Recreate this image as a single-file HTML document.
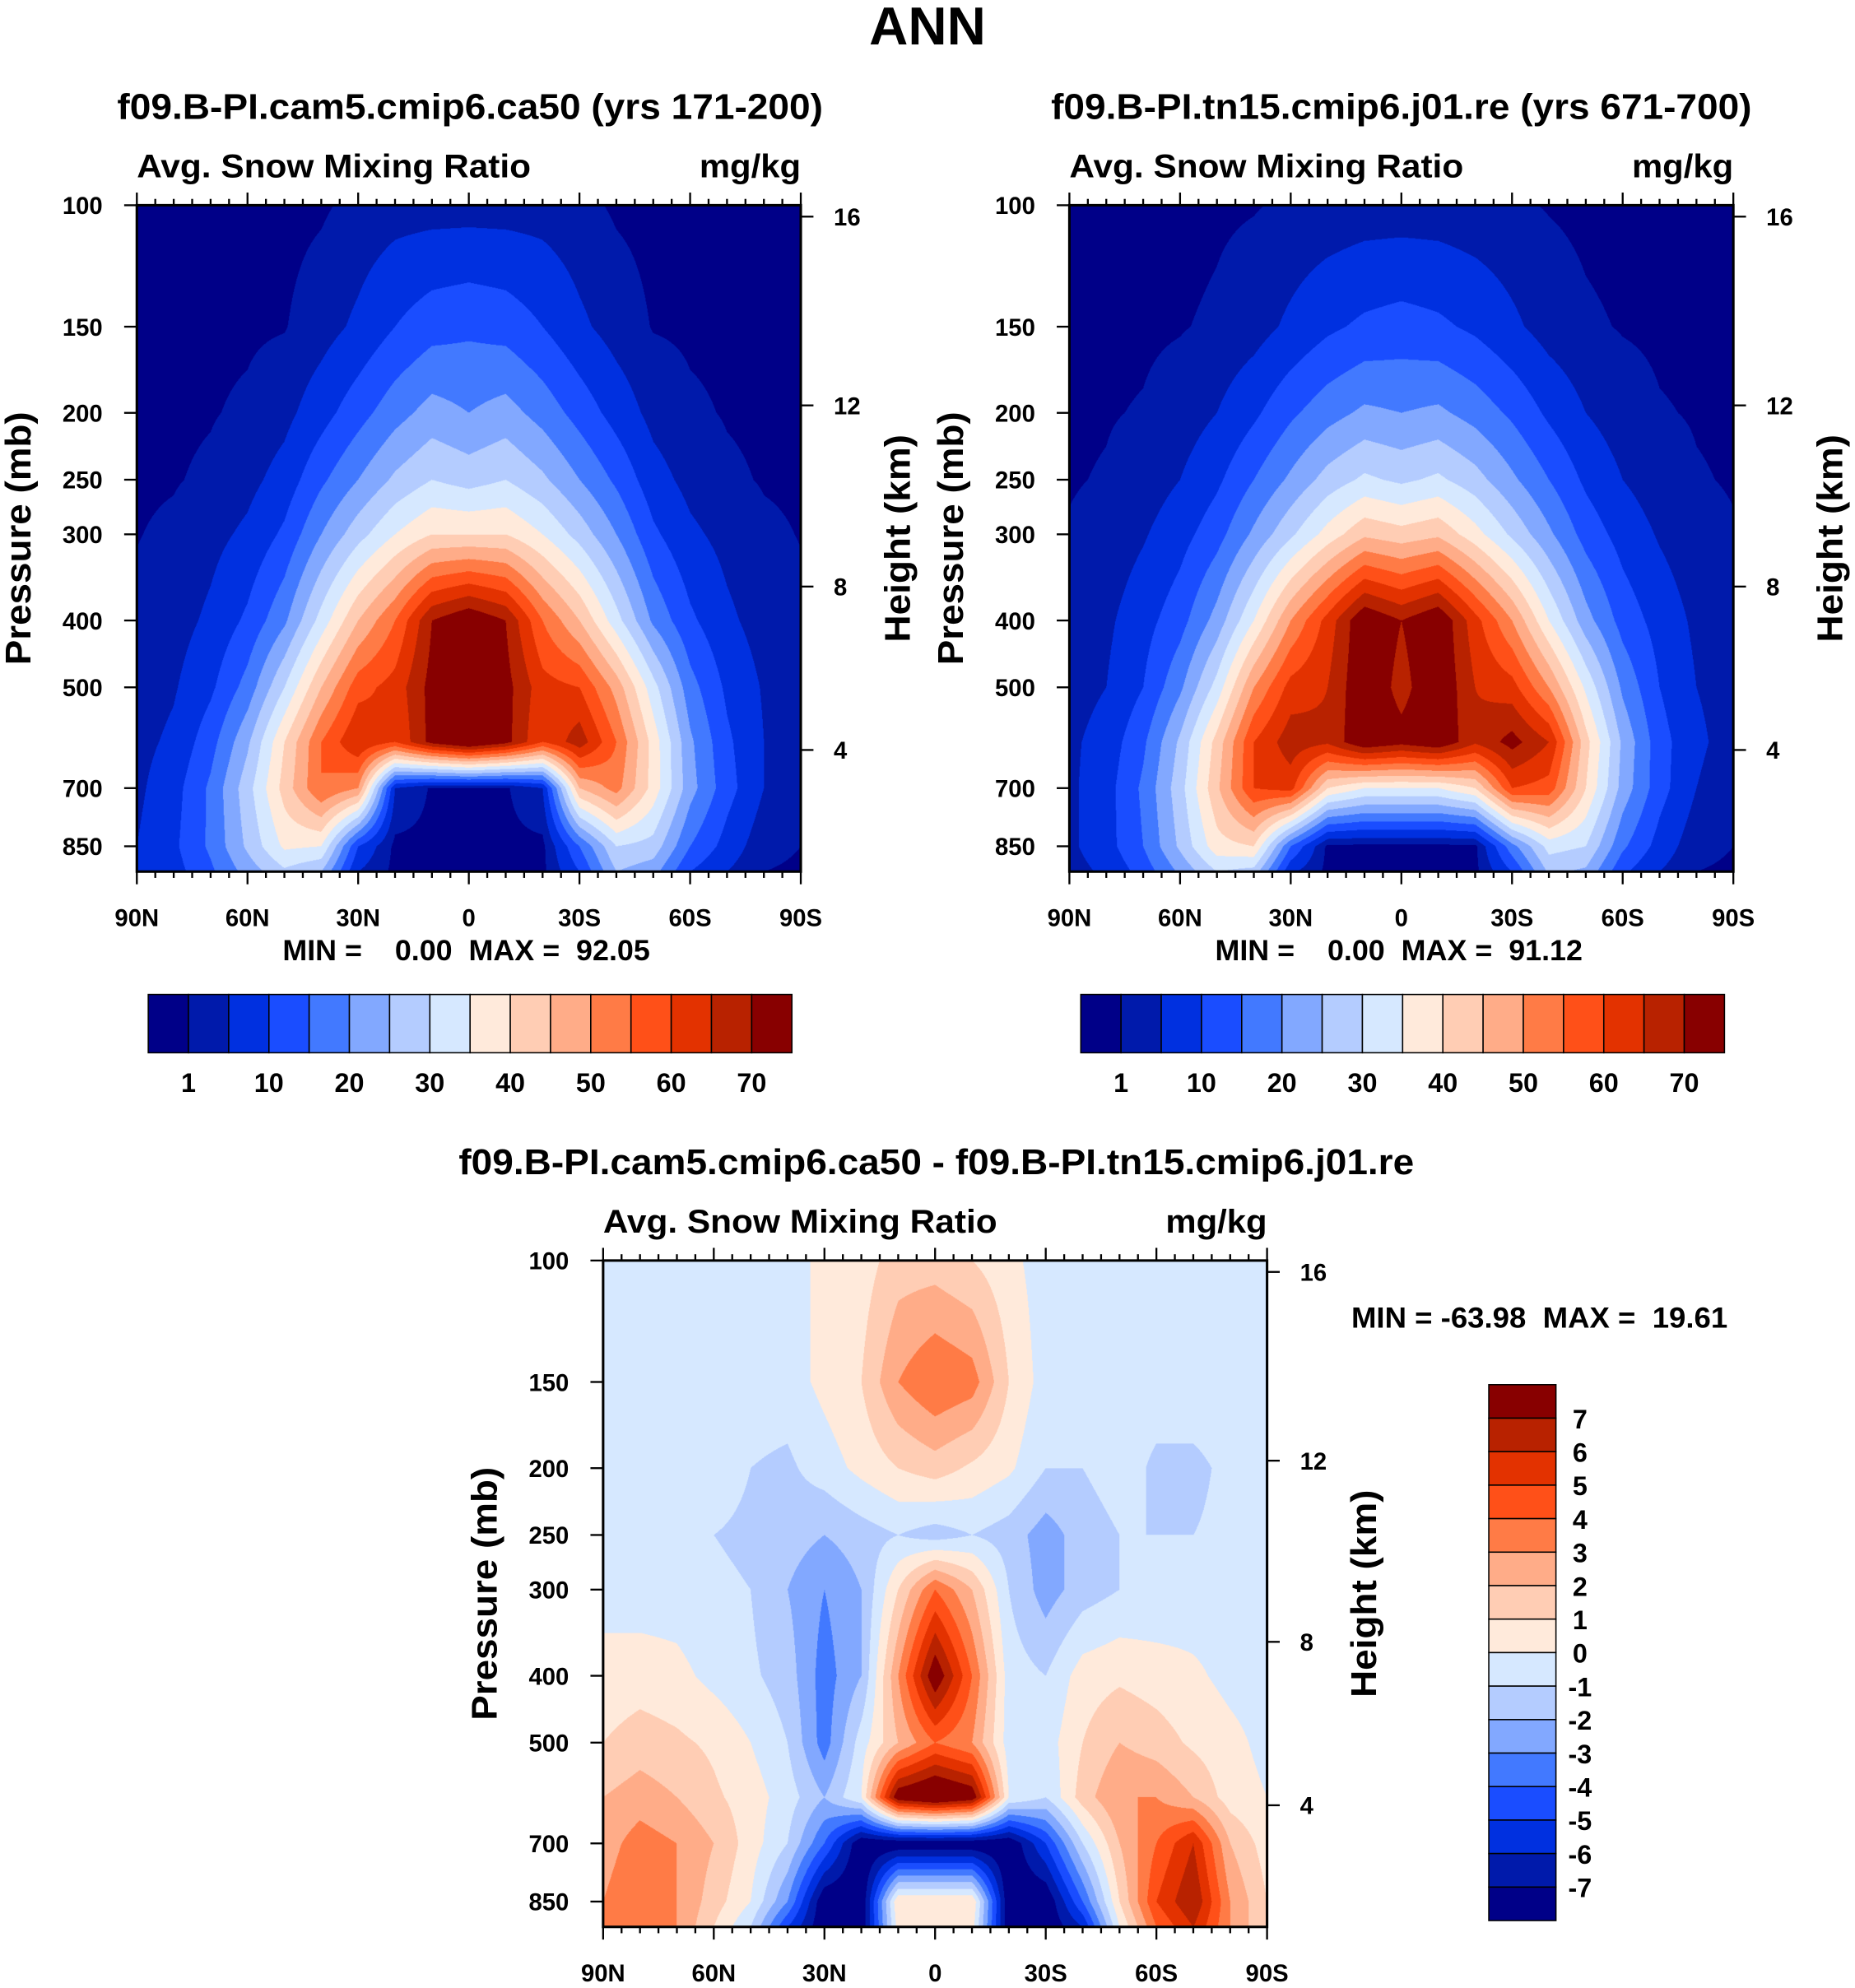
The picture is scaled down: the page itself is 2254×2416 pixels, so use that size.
<!DOCTYPE html>
<html><head><meta charset="utf-8">
<style>
html,body{margin:0;padding:0;background:#fff;width:2254px;height:2416px;overflow:hidden}
#wrap{position:absolute;left:0;top:0;width:1464px;height:1569px;transform:scale(1.5396);transform-origin:0 0;font-family:"Liberation Sans",sans-serif;font-weight:bold}
canvas{position:absolute}
svg{position:absolute;left:0;top:0}
text{font-family:"Liberation Sans",sans-serif;font-weight:bold;fill:#000;white-space:pre}
</style></head><body>
<div id="wrap">
<canvas id="c1"></canvas>
<canvas id="c2"></canvas>
<canvas id="c3"></canvas>
<svg id="s" width="1464" height="1569"></svg>
</div>
<script>
// ---- data ----
const lats = [90,80,70,60,50,40,30,20,10,0,-10,-20,-30,-40,-50,-60,-70,-80,-90];
const levels = [100,150,200,250,300,400,500,600,700,850,925];
const ca50 = [
[0,0,0,0,0,0.5,2,3,3,3,3,3,2,0.5,0,0,0,0,0],
[0.3,0.3,0.4,0.5,0.8,3,6,10,13,14,13,10,6,3,0.8,0.5,0.4,0.3,0.3],
[0.4,0.5,0.8,1.5,3.5,8,13,18,22,20,22,18,13,8,3.5,1.5,0.8,0.5,0.4],
[0.6,0.8,1.5,3.5,7,14,20,26,30,28,30,26,20,14,7,3.5,1.5,0.8,0.6],
[0.9,1.5,3.5,6,11,20,28,35,40,40,40,35,28,20,11,6,3.5,1.5,0.9],
[1.5,3,6,11,19,32,45,55,70,75,70,55,45,32,19,11,6,3,1.5],
[2.5,4.5,9,17,30,45,58,62,72,80,72,62,60,48,32,17,9,4.5,2.5],
[3.5,6,13,24,40,55,65,60,72,78,72,60,68,55,38,21,11,5,3],
[4,8,16,28,42,55,50,5,0.5,0.5,0.5,5,45,52,38,22,12,5,2],
[5,9,16,26,36,35,10,0,0,0,0,0,15,30,28,15,8,2,1],
[5,8,14,22,29,25,5,0,0,0,0,0,10,25,22,10,5,1,0.5]];
const tn15 = [
[0,0,0,0,0.5,0.8,1.5,2,2.5,2.5,2.5,2,1.5,0.8,0.3,0,0,0,0],
[0.4,0.4,0.5,0.8,1.5,3,6,9,11,12,11,9,6,3,1.5,0.8,0.5,0.4,0.4],
[0.6,0.8,1.2,2.5,5,9,14,18,21,20,21,18,14,9,5,2.5,1.2,0.8,0.6],
[0.8,1.2,2.5,5,9,15,21,27,31,29,31,27,21,15,9,5,2.5,1.2,0.8],
[1.2,2,4.5,8,13,21,29,37,44,42,44,37,29,21,13,8,4.5,2,1.2],
[2,4,8,13,22,35,50,62,75,70,75,62,50,35,22,13,8,4,2],
[3,5,10,19,32,50,62,65,75,68,75,65,62,50,34,19,10,5,3],
[4,7,14,26,42,60,68,66,75,72,75,66,72,65,42,24,12,6,3],
[4,8,16,28,44,60,62,40,35,35,35,40,60,58,40,23,12,5,2],
[4,8,15,26,38,40,15,0,0,0,0,0,18,32,30,16,8,2,1],
[3,6,12,21,30,28,6,0,0,0,0,0,10,26,24,11,5,1,0.5]];
const diff = [
[-0.5,-0.5,-0.5,-0.5,-0.5,-0.5,0.3,0.5,1.5,1.5,1,0.3,-0.5,-0.5,-0.5,-0.5,-0.5,-0.5,-0.5],
[-0.5,-0.5,-0.5,-0.5,-0.5,-0.5,0.3,1,3,4,3.5,1,-0.5,-0.8,-0.5,-0.5,-0.5,-0.5,-0.5],
[-0.5,-0.5,-0.5,-0.5,-1,-1.2,-0.5,0.3,1,1.5,0.8,0.2,-1,-1,-0.5,-1.2,-1.2,-0.8,-0.5],
[-0.5,-0.5,-0.5,-1,-1.2,-1.5,-2,-1.5,-1,-1.5,-1,-1.5,-2.5,-1.5,-1,-1,-1,-0.8,-0.5],
[-0.3,-0.5,-0.5,-0.8,-1,-2,-3,-2,1,4,2,-1,-2.5,-1.5,-1,-0.8,-0.6,-0.5,-0.5],
[0.3,0.5,0.3,-0.3,-0.8,-1.5,-3.5,-2,3,8,4,-0.5,-1,0.5,0.8,0.5,0.2,-0.3,-0.5],
[1,1.5,1.2,0.8,0,-1,-3.5,-0.5,2,4,3,-0.5,-0.5,1,2,1.5,0.8,0.3,-0.3],
[2,2.5,2,1.2,0.5,-0.5,-2,0,8,9,8,0,-1,1.5,3,3,2,0.5,0],
[2.5,3.5,3,2,0.5,-1,-4,-8,-8,-8,-8,-8,-5,-1,2,4,6,2,0.5],
[3,4,3,1.5,0,-3,-8,-8,1,1,1,-8,-8,-4,1,5,7,3,1],
[3,3.5,3,1,-1,-5,-8,-8,0.5,0.5,0.5,-8,-8,-6,0,4,6,3,1]];
const absLevels = [1,5,10,15,20,25,30,35,40,45,50,55,60,65,70];
const absLabels = ["1","10","20","30","40","50","60","70"];
const diffLevels = [-7,-6,-5,-4,-3,-2,-1,0,1,2,3,4,5,6,7];
const latTicks = ["90N","60N","30N","0","30S","60S","90S"];
const pTicks = [100,150,200,250,300,400,500,700,850];
const zTicks = [16,12,8,4];
const colors = ["#000088","#001aab","#0030e0","#1a4dff","#4279ff","#82a8ff","#b4ccff","#d6e8ff","#ffeadb","#ffcdb4","#ffac88","#ff7b46","#ff5018","#e33200","#b82200","#880000"];

// ---- geometry ----
const W=524,H=526,PBOT=925;
const panels=[
 {id:'c1',x:108,y:162,data:ca50,lv:absLevels,title:"f09.B-PI.cam5.cmip6.ca50 (yrs 171-200)",tx:371,tl:557,mm:"MIN =    0.00  MAX =  92.05"},
 {id:'c2',x:844,y:162,data:tn15,lv:absLevels,title:"f09.B-PI.tn15.cmip6.j01.re (yrs 671-700)",tx:1106,tl:553,mm:"MIN =    0.00  MAX =  91.12"},
 {id:'c3',x:476,y:995,data:diff,lv:diffLevels,title:"f09.B-PI.cam5.cmip6.ca50 - f09.B-PI.tn15.cmip6.j01.re",tx:739,tl:754,mm:null}];
const pY=p=>H*Math.log(p/100)/Math.log(PBOT/100);
const latX=l=>W*(90-l)/180;
const zAnch=[[16,9],[12,158],[8,301],[4,430]];
const zY=z=>{for(const a of zAnch)if(a[0]===z)return a[1];return 0;};
const lnL=levels.map(p=>Math.log(p));
function sample(d,lat,p){
 let fi=(90-lat)/10; let i0=Math.min(17,Math.floor(fi)); let fx=fi-i0;
 const lp=Math.log(p); let j0=0; while(j0<levels.length-2&&lp>lnL[j0+1])j0++;
 let fy=(lp-lnL[j0])/(lnL[j0+1]-lnL[j0]); fy=Math.max(0,Math.min(1,fy));
 const a=d[j0][i0],b=d[j0][i0+1],c=d[j0+1][i0],e=d[j0+1][i0+1];
 return (a*(1-fx)+b*fx)*(1-fy)+(c*(1-fx)+e*fx)*fy;
}
const rgb=colors.map(h=>[parseInt(h.slice(1,3),16),parseInt(h.slice(3,5),16),parseInt(h.slice(5,7),16)]);
const S=2;
for(const P of panels){
 const cv=document.getElementById(P.id);
 cv.width=W*S;cv.height=H*S;
 cv.style.left=P.x+'px';cv.style.top=P.y+'px';cv.style.width=W+'px';cv.style.height=H+'px';
 const ctx=cv.getContext('2d');const im=ctx.createImageData(W*S,H*S);
 const lnR=Math.log(PBOT/100);
 for(let yy=0;yy<H*S;yy++){
  const p=100*Math.exp(lnR*(yy+0.5)/(H*S));
  for(let xx=0;xx<W*S;xx++){
   const lat=90-180*(xx+0.5)/(W*S);
   const v=sample(P.data,lat,p);
   let k=0;while(k<P.lv.length&&v>=P.lv[k])k++;
   const c=rgb[k];const o=(yy*W*S+xx)*4;
   im.data[o]=c[0];im.data[o+1]=c[1];im.data[o+2]=c[2];im.data[o+3]=255;
  }
 }
 ctx.putImageData(im,0,0);
}
// ---- svg ----
const svg=document.getElementById('s');const NS='http://www.w3.org/2000/svg';
function el(tag,attrs,txt){const e=document.createElementNS(NS,tag);for(const k in attrs)e.setAttribute(k,attrs[k]);if(txt!==undefined)e.textContent=txt;svg.appendChild(e);return e;}
let t=el('text',{x:732,y:35,'font-size':42,'text-anchor':'middle',textLength:92,lengthAdjust:'spacingAndGlyphs'},'ANN');


panels.forEach((P,pi)=>{
 const x0=P.x,y0=P.y;
 let e=el('text',{x:P.tx,y:y0-68,'font-size':28,'text-anchor':'middle',textLength:P.tl,lengthAdjust:'spacingAndGlyphs'},P.title);
 
 
 e=el('text',{x:x0,y:y0-22,'font-size':26,textLength:311,lengthAdjust:'spacingAndGlyphs'},'Avg. Snow Mixing Ratio');
 
 
 e=el('text',{x:x0+W,y:y0-22,'font-size':26,'text-anchor':'end',textLength:80,lengthAdjust:'spacingAndGlyphs'},'mg/kg');
 
 
 e=el('rect',{x:x0,y:y0,width:W,height:H,fill:'none',stroke:'#000','stroke-width':2});
 
 
 for(let l=90;l>=-90;l-=5){
  const X=x0+latX(l);const maj=(l%30===0);const len=maj?10:5;
  el('line',{x1:X,y1:y0+H,x2:X,y2:y0+H+len,stroke:'#000','stroke-width':1.5});
  el('line',{x1:X,y1:y0,x2:X,y2:y0-len,stroke:'#000','stroke-width':1.5});
 }
 latTicks.forEach((s,i)=>{const X=x0+W*i/6;
  e=el('text',{x:X,y:y0+H+43,'font-size':19,'text-anchor':'middle'},s);
  
  });
 pTicks.forEach(p=>{const Y=y0+pY(p);
  el('line',{x1:x0,y1:Y,x2:x0-10,y2:Y,stroke:'#000','stroke-width':1.5});
  e=el('text',{x:x0-27,y:Y+7,'font-size':19,'text-anchor':'end'},String(p));
  
  });
 zTicks.forEach(z=>{const Y=y0+zY(z);
  el('line',{x1:x0+W,y1:Y,x2:x0+W+10,y2:Y,stroke:'#000','stroke-width':1.5});
  e=el('text',{x:x0+W+26,y:Y+7,'font-size':19},String(z));
  
  });
 e=el('text',{x:0,y:0,'font-size':28,'text-anchor':'middle',textLength:200,lengthAdjust:'spacingAndGlyphs',transform:`translate(${x0-84},${y0+H/2}) rotate(-90)`},'Pressure (mb)');
 
 
 e=el('text',{x:0,y:0,'font-size':28,'text-anchor':'middle',textLength:164,lengthAdjust:'spacingAndGlyphs',transform:`translate(${x0+W+86},${y0+H/2}) rotate(-90)`},'Height (km)');
 
 
 if(P.mm){
  e=el('text',{x:x0+W/2-2,y:y0+H+70,'font-size':23,'text-anchor':'middle',textLength:290,lengthAdjust:'spacingAndGlyphs'},P.mm);
  
  
  const bx=x0+9,by=785,bw=508/16,bh=46;
  colors.forEach((c,i)=>{e=el('rect',{x:bx+i*bw,y:by,width:bw,height:bh,fill:c,stroke:'#000','stroke-width':1});
   
   });
  absLabels.forEach((s,i)=>{const X=bx+bw*(i===0?1:2*i+1);
   e=el('text',{x:X,y:862,'font-size':21,'text-anchor':'middle'},s);
   
   });
 }
});
let e2=el('text',{x:1215,y:1048,'font-size':23,'text-anchor':'middle',textLength:297,lengthAdjust:'spacingAndGlyphs'},'MIN = -63.98  MAX =  19.61');


const cbx=1175,cby=1093,cbw=53,cbh=423/16;
colors.slice().reverse().forEach((c,i)=>{const r=el('rect',{x:cbx,y:cby+i*cbh,width:cbw,height:cbh,fill:c,stroke:'#000','stroke-width':1});
 
 });
diffLevels.slice().reverse().forEach((v,i)=>{const r=el('text',{x:1247,y:cby+(i+1)*cbh+8,'font-size':21,'text-anchor':'middle'},String(v));
 
 });
</script>
</body></html>
